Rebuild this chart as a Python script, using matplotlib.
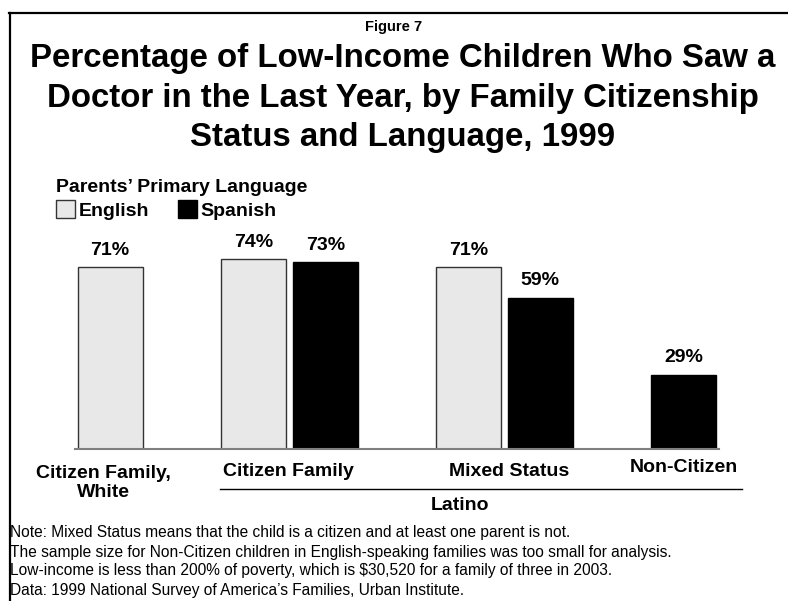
import numpy as np
import matplotlib
matplotlib.use("Agg")
import matplotlib.pyplot as plt
from matplotlib.lines import Line2D

plt.rcParams["font.family"] = ["Liberation Sans", "DejaVu Sans"]

# data
groups = ["Citizen Family,\nWhite", "Citizen Family", "Mixed Status", "Non-Citizen"]
english = [71, 74, 71, np.nan]
spanish = [np.nan, 73, 59, 29]
series_names = ["English", "Spanish"]
legend_title = "Parents\u2019 Primary Language"
fig_label = "Figure 7"
title = ("Percentage of Low-Income Children Who Saw a\n"
         "Doctor in the Last Year, by Family Citizenship\n"
         "Status and Language, 1999")
subgroup = "Latino"
notes = [
    "Note: Mixed Status means that the child is a citizen and at least one parent is not.",
    "The sample size for Non-Citizen children in English-speaking families was too small for analysis.",
    "Low-income is less than 200% of poverty, which is $30,520 for a family of three in 2003.",
    "Data: 1999 National Survey of America\u2019s Families, Urban Institute.",
]

W, H = 788, 601
fig = plt.figure(figsize=(W / 100, H / 100), dpi=100)


def fx(x):
    return x / W


def fy(y):
    return 1 - y / H


# frame (top and left edges only)
fig.add_artist(Line2D([fx(9), fx(788)], [fy(13), fy(13)], color="black", lw=1.6))
fig.add_artist(Line2D([fx(9.5), fx(9.5)], [fy(13), fy(601)], color="black", lw=1.6))

fig.text(fx(394), fy(27), fig_label, ha="center", va="center", fontsize=10.5, fontweight="bold")
fig.text(fx(403), fy(98), title, ha="center", va="center", fontsize=23.8,
         fontweight="bold", linespacing=1.34)

# bars
ax = fig.add_axes([fx(75), fy(449), fx(719 - 75), (449 - 244) / H])
pos = np.array([0, 1, 2.5, 3.5])
off = 0.25
bw = 0.453
eng = np.array(english, dtype=float)
spa = np.array(spanish, dtype=float)
m1 = ~np.isnan(eng)
m2 = ~np.isnan(spa)
b1 = ax.bar(pos[m1] - off, eng[m1], bw, color="#e8e8e8", edgecolor="#333333",
            linewidth=1.0, label=series_names[0])
b2 = ax.bar(pos[m2] + off, spa[m2], bw, color="black", edgecolor="black",
            linewidth=1.0, label=series_names[1])
for b in (b1, b2):
    ax.bar_label(b, labels=["%d%%" % v for v in b.datavalues], padding=6,
                 fontsize=14, fontweight="bold")

ax.set_xlim(-0.495, 3.996)
ax.set_ylim(0, 80)
for s in ["top", "right", "left"]:
    ax.spines[s].set_visible(False)
ax.spines["bottom"].set_color("#808080")
ax.spines["bottom"].set_linewidth(1.5)
ax.set_xticks([])
ax.set_yticks([])

# category labels
lab_x = [103, 288, 509, 684]
lab_y = [483, 472, 472, 468]
for g, x, y in zip(groups, lab_x, lab_y):
    fig.text(fx(x), fy(y), g, ha="center", va="center", fontsize=14,
             fontweight="bold", linespacing=1.08)

fig.add_artist(Line2D([fx(220), fx(742)], [fy(489), fy(489)], color="black", lw=1.0))
fig.text(fx(460), fy(505), subgroup, ha="center", va="center", fontsize=14, fontweight="bold")

# legend
leg = fig.legend(handles=[b1, b2], loc="upper left", bbox_to_anchor=(fx(56), fy(179)),
                 ncol=2, frameon=False, fontsize=14, title=legend_title,
                 title_fontproperties={"size": 14, "weight": "bold"},
                 alignment="left", borderpad=0, borderaxespad=0,
                 handlelength=1.0, handleheight=1.0, handletextpad=0.15,
                 columnspacing=1.5, labelspacing=0.2)
for t in leg.get_texts():
    t.set_fontweight("bold")
leg._legend_box.sep = 3

# notes
for i, n in enumerate(notes):
    fig.text(fx(10), fy(533 + 19 * i), n, ha="left", va="center", fontsize=11.2)

fig.savefig("out.png", dpi=100)
